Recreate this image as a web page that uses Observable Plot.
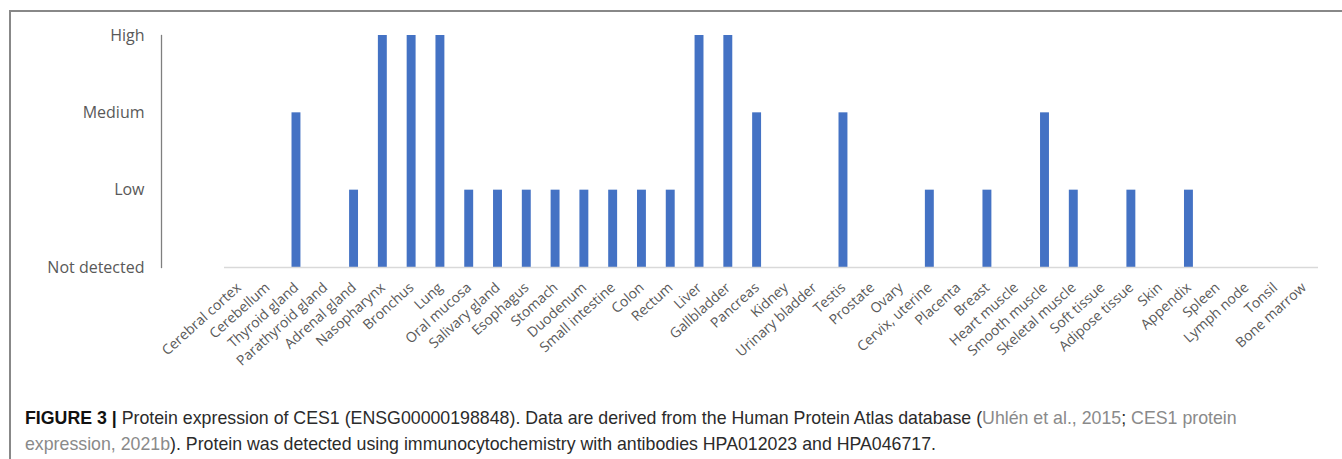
<!DOCTYPE html>
<html>
<head>
<meta charset="utf-8">
<script src="https://cdn.jsdelivr.net/npm/d3@7"></script>
<script src="https://cdn.jsdelivr.net/npm/@observablehq/plot@0.6"></script>
<style>
  html, body { margin: 0; padding: 0; background: #fff; width: 1342px; height: 459px; overflow: hidden; }
  #border { position: absolute; left: 9px; top: 10px; width: 2000px; height: 1000px;
            border-left: 2px solid #888; border-top: 2px solid #888; }
  #chart { position: absolute; left: 0; top: 0; }
  #caption { position: absolute; left: 25px; top: 405px; width: 1310px;
             font-family: "Liberation Sans", Arial, sans-serif; font-size: 17.75px; line-height: 26px; color: #2b2b2b; white-space: nowrap; }
  #caption b { color: #111; }
  #caption .ref { color: #8a8a8a; }
</style>
</head>
<body>
<div id="border"></div>
<div id="chart"></div>
<div id="caption">
  <b>FIGURE 3 |</b> Protein expression of CES1 (ENSG00000198848). Data are derived from the Human Protein Atlas database (<span class="ref">Uhlén et al., 2015</span>; <span class="ref">CES1 protein</span><br>
  <span class="ref">expression, 2021b</span>). Protein was detected using immunocytochemistry with antibodies HPA012023 and HPA046717.
</div>
<script>
const tissues = ["Cerebral cortex","Cerebellum","Thyroid gland","Parathyroid gland","Adrenal gland","Nasopharynx","Bronchus","Lung","Oral mucosa","Salivary gland","Esophagus","Stomach","Duodenum","Small intestine","Colon","Rectum","Liver","Gallbladder","Pancreas","Kidney","Urinary bladder","Testis","Prostate","Ovary","Cervix, uterine","Placenta","Breast","Heart muscle","Smooth muscle","Skeletal muscle","Soft tissue","Adipose tissue","Skin","Appendix","Spleen","Lymph node","Tonsil","Bone marrow"];
const levelLabels = ["Not detected","Low","Medium","High"];
const expression = ["Not detected","Not detected","Medium","Not detected","Low","High","High","High","Low","Low","Low","Low","Low","Low","Low","Low","High","High","Medium","Not detected","Not detected","Medium","Not detected","Not detected","Low","Not detected","Low","Not detected","Medium","Low","Not detected","Low","Not detected","Low","Not detected","Not detected","Not detected","Not detected"];

const data = tissues.map((t, i) => ({tissue: t, level: levelLabels.indexOf(expression[i])}));
const font = "'Open Sans', sans-serif";

const chart = Plot.plot({
  width: 1342,
  height: 380,
  marginLeft: 161,
  marginRight: 24,
  marginTop: 35,
  marginBottom: 113,
  style: {fontFamily: font, background: "transparent"},
  x: {domain: tissues, paddingInner: 0.69, paddingOuter: 0.345, insetLeft: 63, round: false},
  y: {domain: [0, 3]},
  marks: [
    Plot.frame({anchor: "left", stroke: "#7f7f7f", strokeWidth: 1.3}),
    Plot.barY(data, {x: "tissue", y: "level", fill: "#4472C4"}),
    Plot.ruleY([0], {insetLeft: 63, stroke: "#d9d9d9", strokeWidth: 1.5}),
    Plot.axisY({ticks: [0,1,2,3], tickFormat: d => levelLabels[d], tickSize: 0, tickPadding: 17,
                fontSize: 16, fill: "#595959", label: null}),
    Plot.axisX({tickRotate: -42, tickSize: 0, tickPadding: 18, fontSize: 14, fill: "#595959", label: null})
  ]
});
document.getElementById("chart").appendChild(chart);
</script>
</body>
</html>
